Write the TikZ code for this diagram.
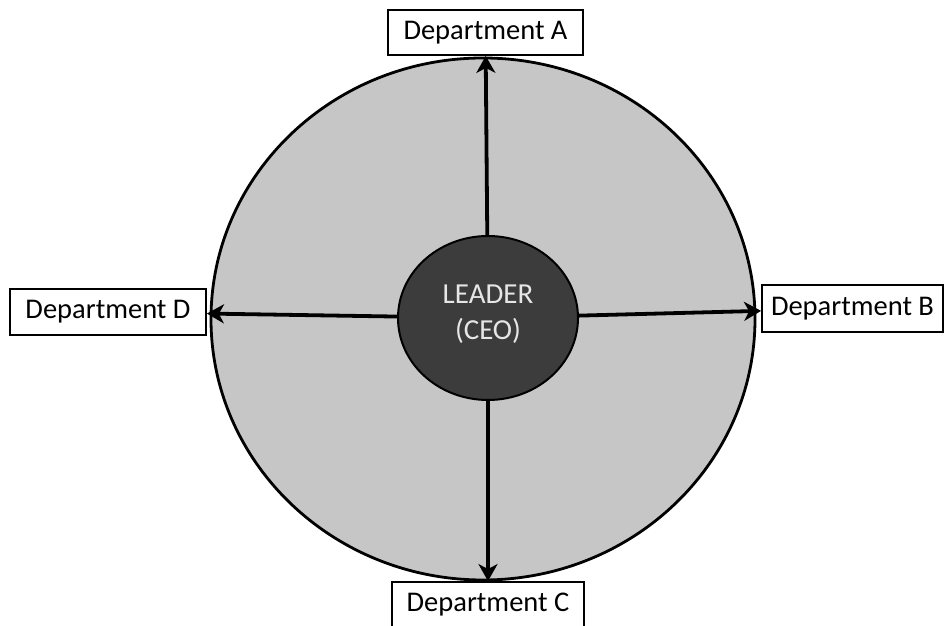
\documentclass[tikz,border=0pt]{standalone}
\usepackage{fontspec}
\setmainfont{Carlito}
\usetikzlibrary{arrows.meta,shapes.geometric}
\definecolor{outerfill}{HTML}{C6C6C6}
\definecolor{innerfill}{HTML}{3C3C3C}
\definecolor{leadertext}{HTML}{E6E6E6}
\tikzset{
  deptbox/.style={draw=black, line width=1.8pt, fill=white, minimum height=45pt, inner sep=0pt, font=\fontsize{28.5}{32}\selectfont},
  link/.style={line width=3.8pt, -{Stealth[length=17pt,width=19pt,inset=5pt]}},
}
\begin{document}
\begin{tikzpicture}[x=1pt,y=1pt]
\useasboundingbox (0,0) rectangle (946,626);
\fill[white] (0,0) rectangle (946,626);
\node[ellipse, draw=black, line width=2.8pt, fill=outerfill, minimum width=544pt, minimum height=522pt, inner sep=0pt] (outer) at (483,307) {};
\node[draw=black, line width=2pt, fill=innerfill, ellipse, minimum width=180pt, minimum height=164pt, inner sep=0pt, text=leadertext, align=center, font=\fontsize{29}{36}\selectfont] (L) at (488,308) {\mbox{}\\[-24pt]LEADER\\(CEO)};
\node[deptbox, minimum width=195pt] (A) at (485.5,593.5) {Department A};
\node[deptbox, minimum width=192pt] (C) at (488,21.5) {Department C};
\node[deptbox, minimum width=196pt, minimum height=46pt] (D) at (108,314) {Department D};
\node[deptbox, minimum width=181pt, minimum height=47pt] (B) at (852.5,317.5) {Department B};
\draw[link] (L) -- (A);
\draw[link] (L) -- (C);
\draw[link] (L) -- (D);
\draw[link] (L) -- (B);
\end{tikzpicture}
\end{document}
